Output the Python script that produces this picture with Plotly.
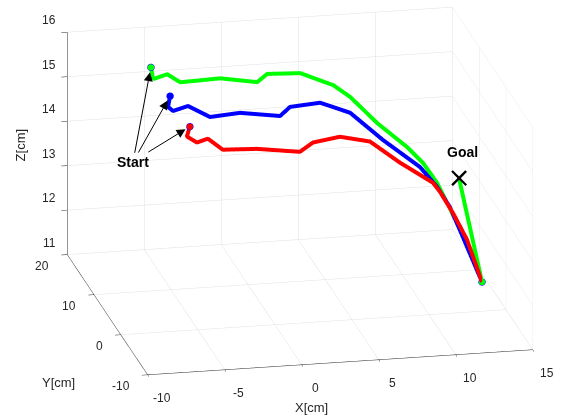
import plotly.graph_objects as go

# Trajectory data (cm)
green_x = [-5.44, -5.29, -4.38, -3.54, -0.94, 1.46, 2.11, 4.25, 6.40, 7.50, 8.81, 10.32, 10.93, 11.40, 11.78, 12.17, 12.84, 13.44, 11.95]
green_y = [15, 15, 15, 15, 15, 15, 15, 15, 15, 15, 12.5, 10, 7.5, 5, 3.5, 2, 1, 0, 0]
green_z = [15.56, 15.29, 15.38, 15.18, 15.21, 15.07, 15.24, 15.21, 14.89, 14.60, 14.21, 13.86, 13.71, 13.48, 13.16, 12.83, 12.23, 11.66, 14.03]

blue_x = [-5.50, -5.63, -5.31, -4.33, -2.91, -0.96, 1.64, 2.29, 4.24, 6.19, 8.06, 10.20, 11.05, 11.71, 12.38, 13.44, 11.95]
blue_y = [7.5, 7.5, 7.5, 7.5, 7.5, 7.5, 7.5, 7.5, 7.5, 7.5, 6, 4.5, 3, 2, 1, 0, 0]
blue_z = [15.59, 15.35, 15.25, 15.34, 15.06, 15.11, 14.98, 15.17, 15.22, 14.95, 14.43, 13.91, 13.58, 13.20, 12.60, 11.66, 14.03]

red_x = [-5.52, -5.71, -5.06, -4.35, -3.38, -1.17, 1.62, 2.47, 4.22, 6.17, 8.12, 10.26, 10.71, 11.56, 12.47, 13.44, 11.95]
red_y = [0] * 17
red_z = [15.58, 15.36, 15.21, 15.28, 15.01, 14.98, 14.85, 15.04, 15.13, 14.98, 14.46, 13.96, 13.75, 13.25, 12.63, 11.66, 14.03]

goal = (11.95, 0, 14.03)

x_range = [-10, 15]
y_range = [-10, 20]
z_range = [11, 16]
x_ticks = [-10, -5, 0, 5, 10, 15]
y_ticks = [-10, 0, 10, 20]
z_ticks = [11, 12, 13, 14, 15, 16]

FONT = "Liberation Sans, Arial, sans-serif"
TICK_FONT = dict(family=FONT, size=12, color="#262626")

fig = go.Figure()
series = [("red", red_x, red_y, red_z, "#ff0000"),
          ("blue", blue_x, blue_y, blue_z, "#0000ff"),
          ("green", green_x, green_y, green_z, "#00ff00")]
for name, xs, ys, zs, col in series:
    fig.add_trace(go.Scatter3d(x=xs, y=ys, z=zs, mode="lines",
                               line=dict(color=col, width=8), showlegend=False,
                               hoverinfo="skip"))
for name, xs, ys, zs, col in series:
    fig.add_trace(go.Scatter3d(x=[xs[0], xs[-2]], y=[ys[0], ys[-2]], z=[zs[0], zs[-2]],
                               mode="markers",
                               marker=dict(size=4, color=col, line=dict(color="#0000ff", width=1)),
                               showlegend=False, hoverinfo="skip"))

fig.add_trace(go.Scatter3d(x=[goal[0]], y=[goal[1]], z=[goal[2]], mode="text",
                           text=["×"], textposition="middle center",
                           textfont=dict(family="DejaVu Sans", size=28, color="black"),
                           showlegend=False, hoverinfo="skip"))

anns = []
# Start arrows
starts = [(green_x[0], green_y[0], green_z[0], -18, 95, True),
          (blue_x[0], blue_y[0], blue_z[0], -37, 66, False),
          (red_x[0], red_y[0], red_z[0], -57, 35, False)]
for sx, sy, sz, ax, ay, vis in starts:
    anns.append(dict(x=sx, y=sy, z=sz, text="<b>Start</b>", showarrow=True,
                     ax=ax, ay=ay, arrowhead=2, arrowsize=1.8, arrowwidth=1,
                     arrowcolor="black", standoff=5,
                     font=dict(family=FONT, size=14,
                               color="black" if vis else "rgba(0,0,0,0)")))
anns.append(dict(x=goal[0], y=goal[1], z=goal[2], text="<b>Goal</b>", showarrow=False,
                 yshift=26, xshift=4, font=dict(family=FONT, size=14, color="black")))

# Tick labels anchored at the axis tick positions (MATLAB-style placement)
for t in x_ticks:
    anns.append(dict(x=t, y=y_range[0], z=z_range[0], text=str(t), showarrow=False,
                     xanchor="center", yanchor="middle", xshift=14, yshift=-23, font=TICK_FONT))
for t in y_ticks:
    anns.append(dict(x=x_range[0], y=t, z=z_range[0], text=str(t), showarrow=False,
                     xanchor="right", yanchor="middle", xshift=-16, yshift=-11, font=TICK_FONT))
for t in z_ticks:
    anns.append(dict(x=x_range[0], y=y_range[1], z=t, text=str(t), showarrow=False,
                     xanchor="right", yanchor="middle", xshift=-9, yshift=12, font=TICK_FONT))

axis_common = dict(showbackground=False, gridcolor="#e0e0e0", gridwidth=1,
                   showline=True, linecolor="#262626", linewidth=1,
                   ticks="outside", tickcolor="#262626", ticklen=6,
                   showticklabels=False,
                   zeroline=False, showspikes=False, title=dict(text=""))

# axis titles as 2D labels
TITLE_FONT = dict(family=FONT, size=13, color="#262626")
fig.add_annotation(text="X[cm]", x=0.552, y=0.026, xref="paper", yref="paper", showarrow=False,
                   xanchor="center", yanchor="middle", font=TITLE_FONT)
fig.add_annotation(text="Y[cm]", x=0.103, y=0.084, xref="paper", yref="paper", showarrow=False,
                   xanchor="center", yanchor="middle", font=TITLE_FONT)
fig.add_annotation(text="Z[cm]", x=0.036, y=0.653, xref="paper", yref="paper", showarrow=False,
                   xanchor="center", yanchor="middle", textangle=-90, font=TITLE_FONT)

E = 3.0
S = 2.06
fig.update_layout(
    width=565, height=418,
    margin=dict(l=0, r=0, t=0, b=0),
    paper_bgcolor="white",
    font=dict(family=FONT, color="#262626"),
    scene=dict(
        domain=dict(x=[0.062, 1.0], y=[0.086, 1.0]),
        xaxis=dict(range=x_range, tickvals=x_ticks, **axis_common),
        yaxis=dict(range=y_range, tickvals=y_ticks, **axis_common),
        zaxis=dict(range=z_range, tickvals=z_ticks, **axis_common),
        aspectmode="manual",
        aspectratio=dict(x=1 * S, y=1 * S, z=0.595 * S),
        camera=dict(eye=dict(x=-0.194 * E, y=-0.930 * E, z=0.312 * E),
                    up=dict(x=0, y=0, z=1), center=dict(x=0, y=0, z=0),
                    projection=dict(type="orthographic")),
        annotations=anns,
    ),
)

fig.write_html("out.html")
